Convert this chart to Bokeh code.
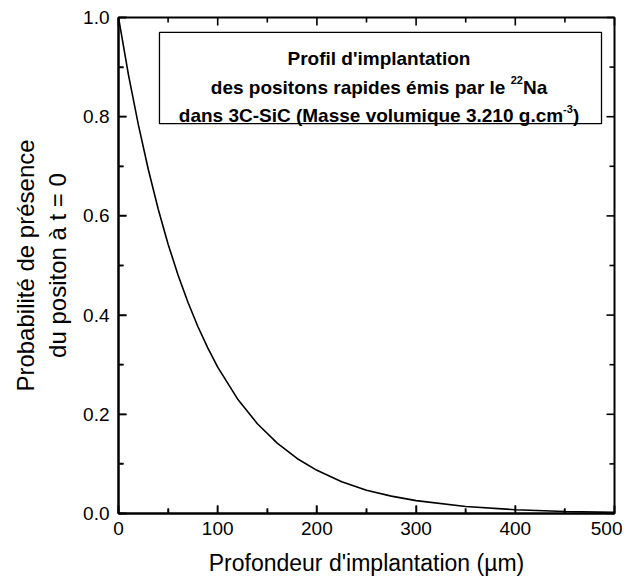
from bokeh.plotting import figure
from bokeh.models import Range1d, BoxAnnotation, Label, FixedTicker
from bokeh.embed import file_html
from bokeh.resources import INLINE

# Depth (µm) and probability
depth = [0, 10, 20, 30, 40, 50, 60, 70, 80, 90, 100, 120, 140, 160, 180, 200,
         225, 250, 275, 300, 350, 400, 450, 500]
prob = [1.000, 0.885, 0.784, 0.694, 0.614, 0.543, 0.481, 0.426, 0.377, 0.334, 0.295,
        0.231, 0.181, 0.142, 0.111, 0.087, 0.064, 0.047, 0.035, 0.026, 0.014,
        0.0076, 0.0041, 0.0022]

# ticks
x_major = [0, 100, 200, 300, 400, 500]
x_minor = [50, 150, 250, 350, 450]
y_major = [0.0, 0.2, 0.4, 0.6, 0.8, 1.0]
y_minor = [0.1, 0.3, 0.5, 0.7, 0.9]
y_tick_labels = {0: "0.0", 0.2: "0.2", 0.4: "0.4", 0.6: "0.6", 0.8: "0.8", 1: "1.0"}

x_label = "Profondeur d'implantation (µm)"
y_label = "Probabilité de présence\ndu positon à t = 0"
# annotation text: (plain, superscript, trailing) per line
box_text = [("Profil d'implantation", "", ""),
            ("des positons rapides émis par le ", "22", "Na"),
            ("dans 3C-SiC (Masse volumique 3.210 g.cm", "-3", ")")]

FONT = "Liberation Sans"
FS = 19      # main annotation font size (px)
FS_SUP = 11  # superscript font size (px)

# Arial/Liberation Sans Bold advance widths (em) for placing the superscripts
W = {' ': .278, "'": .238, '(': .333, ')': .333, '-': .333, '.': .278,
     '0': .556, '1': .556, '2': .556, '3': .556, 'C': .722, 'M': .833, 'N': .722,
     'P': .667, 'S': .667, 'a': .556, 'c': .556, 'd': .611, 'e': .556, 'é': .556,
     'f': .333, 'g': .611, 'i': .278, 'l': .278, 'm': .889, 'n': .611, 'o': .611,
     'p': .611, 'q': .611, 'r': .389, 's': .556, 't': .333, 'u': .611, 'v': .556}

def tw(s, fs):
    return sum(W.get(c, .556) for c in s) * fs

X0, X1, Y0, Y1 = 0.0, 500.0, 0.0, 1.0
WIDTH, HEIGHT = 622, 578
BL, BR, BT, BB = 118, 8, 17, 65
FW, FH = WIDTH - BL - BR, HEIGHT - BT - BB   # frame size in px

p = figure(width=WIDTH, height=HEIGHT, x_range=Range1d(X0, X1), y_range=Range1d(Y0, Y1),
           output_backend="svg", toolbar_location=None,
           min_border_left=BL, min_border_right=BR, min_border_top=BT, min_border_bottom=BB)
p.outline_line_color = "black"
p.outline_line_width = 2
p.outline_line_alpha = 1.0
p.xgrid.visible = False
p.ygrid.visible = False
p.background_fill_color = "white"
p.border_fill_color = "white"

p.line(depth, prob, line_color="black", line_width=1.6)

for ax in (p.xaxis[0], p.yaxis[0]):
    ax.axis_line_width = 2
    ax.axis_line_color = "black"
    ax.major_tick_in = 8
    ax.major_tick_out = 0
    ax.minor_tick_in = 5
    ax.minor_tick_out = 0
    ax.major_tick_line_width = 1.5
    ax.minor_tick_line_width = 1.5
    ax.major_tick_line_color = "black"
    ax.minor_tick_line_color = "black"
    ax.major_label_text_font = FONT
    ax.major_label_text_font_size = "19px"
    ax.major_label_text_color = "black"
    ax.axis_label_text_font = FONT
    ax.axis_label_text_font_style = "normal"
    ax.axis_label_text_color = "black"
p.xaxis.axis_label_text_font_size = "23px"
p.yaxis.axis_label_text_font_size = "24px"

p.xaxis.ticker = FixedTicker(ticks=x_major, minor_ticks=x_minor)
p.yaxis.ticker = FixedTicker(ticks=y_major, minor_ticks=y_minor)
p.xaxis.axis_label = x_label
p.yaxis.axis_label = y_label
p.xaxis.major_label_standoff = 8
p.xaxis.axis_label_standoff = 12
p.yaxis.major_label_standoff = 9
p.yaxis.axis_label_standoff = 9
p.yaxis.major_label_overrides = y_tick_labels

# inward ticks on all four sides, drawn as short line pieces
MAJ, MIN = 8, 5   # tick lengths in px
dx_px = (X1 - X0) / FW
dy_px = (Y1 - Y0) / FH
tick_xs, tick_ys = [], []
for xs, ln in ((x_major, MAJ), (x_minor, MIN)):
    for x in xs:
        tick_xs += [[x, x], [x, x]]
        tick_ys += [[Y0, Y0 + ln * dy_px], [Y1, Y1 - ln * dy_px]]
for ys, ln in ((y_major, MAJ), (y_minor, MIN)):
    for y in ys:
        tick_xs += [[X0, X0 + ln * dx_px], [X1, X1 - ln * dx_px]]
        tick_ys += [[y, y], [y, y]]
p.multi_line(xs=tick_xs, ys=tick_ys, line_color="black", line_width=1.6, level="overlay")

# annotation box
p.add_layout(BoxAnnotation(left=41.3, right=486.9, top=0.970, bottom=0.786,
                           fill_color="white", fill_alpha=1.0,
                           line_color="black", line_alpha=1.0, line_width=1.3))
cx = 262.6
baselines = [0.9173, 0.8593, 0.8024]
sup_raise = 0.014
for yb, (main, sup, tail) in zip(baselines, box_text):
    total = tw(main, FS) + tw(sup, FS_SUP) + tw(tail, FS)
    x0 = -total / 2.0
    common = dict(text_align="left", text_baseline="alphabetic", text_font=FONT,
                  text_font_style="bold", text_color="black")
    p.add_layout(Label(x=cx, y=yb, x_offset=x0, text=main, text_font_size=f"{FS}px", **common))
    if sup:
        x1 = x0 + tw(main, FS)
        p.add_layout(Label(x=cx, y=yb + sup_raise, x_offset=x1, text=sup,
                           text_font_size=f"{FS_SUP}px", **common))
        x2 = x1 + tw(sup, FS_SUP)
        p.add_layout(Label(x=cx, y=yb, x_offset=x2, text=tail, text_font_size=f"{FS}px", **common))

open("out.html", "w").write(file_html(p, INLINE))
